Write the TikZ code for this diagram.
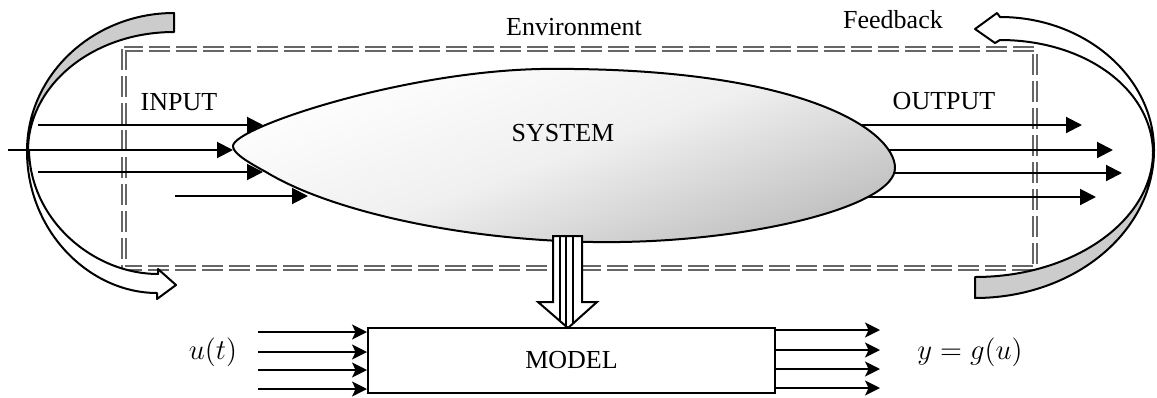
\documentclass[tikz,border=0pt]{standalone}
\usepackage{fontspec}
\setmainfont{Liberation Serif}
\usetikzlibrary{arrows.meta}
\begin{document}
\begin{tikzpicture}[x=0.5pt,y=-0.5pt,
  lbl/.style={font=\fontsize{13}{15}\selectfont, inner sep=0pt},
  mlbl/.style={font=\fontsize{15}{17}\selectfont, inner sep=0pt},
  env/.style={draw=black!60, double=white, double distance=0.9pt, line width=1pt, dash pattern=on 10.5pt off 3pt},
  arr/.style={line width=1pt, -{Triangle[length=8pt,width=8pt]}},
  marr/.style={line width=1pt, -{Stealth[length=7.5pt,width=7.5pt,inset=1.8pt]}},
  band/.style={draw=black, line width=1pt, line join=round},
  blob/.style={draw=black, line width=1pt, top color=white, bottom color=gray!50, middle color=white!88!gray, shading angle=20},
]
\fill[white] (0,0) rectangle (1157,397);
\useasboundingbox (0,0) rectangle (1157,397);

% environment boundary
\draw[env] (124,49) rectangle (1035,268);
\node[lbl] (env) at (574,27) {Environment};
\node[lbl] (fb) at (893,20) {Feedback};

% output arrows (start under the system shape)
\coordinate (o1s) at (800,125); \coordinate (o1e) at (1082,125);
\coordinate (o2s) at (820,150); \coordinate (o2e) at (1113,150);
\coordinate (o3s) at (820,173); \coordinate (o3e) at (1122,173);
\coordinate (o4s) at (800,197); \coordinate (o4e) at (1096,197);
\draw[arr] (o1s) -- (o1e);
\draw[arr] (o2s) -- (o2e);
\draw[arr] (o3s) -- (o3e);
\draw[arr] (o4s) -- (o4e);

% system shape
\path[blob] (233,146) .. controls (233,128) and (400,72) .. (540,69)
  .. controls (800,66) and (895,130) .. (895,168)
  .. controls (895,205) and (760,240) .. (620,242)
  .. controls (480,244) and (335,214) .. (266,172)
  .. controls (242,159) and (233,152) .. (233,146) -- cycle;
\node[lbl] (system) at (563,133) {SYSTEM};

% input arrows
\coordinate (i1s) at (38,125);  \coordinate (i1e) at (263,125);
\coordinate (i2s) at (8,150);   \coordinate (i2e) at (233,150);
\coordinate (i3s) at (38,172);  \coordinate (i3e) at (263,172);
\coordinate (i4s) at (175,196); \coordinate (i4e) at (308,196);

% left curved arrow
\filldraw[band, fill=gray!40] (174,13) .. controls (93,13) and (27,75) .. (27,151)
  -- (28,151) .. controls (28,85) and (93,32) .. (174,32) -- cycle;
\filldraw[band, fill=white] (27,151) .. controls (27,232) and (90,293) .. (157,293)
  -- (157,299) -- (176,285) -- (158,269) -- (158,274)
  .. controls (95,274) and (31,222) .. (29,151) -- cycle;

% right curved arrow
\filldraw[band, fill=gray!40] (1154,150) .. controls (1154,232) and (1074,298) .. (975,298)
  -- (975,277) .. controls (1074,277) and (1153,220) .. (1153,152) -- cycle;
\filldraw[band, fill=white] (1154,150) .. controls (1154,77) and (1085,17) .. (1000,17)
  -- (997,13) -- (975,29) -- (995,43) -- (1000,40)
  .. controls (1085,40) and (1152,89) .. (1153,152) -- cycle;

\draw[arr] (i1s) -- (i1e);
\draw[arr] (i2s) -- (i2e);
\draw[arr] (i3s) -- (i3e);
\draw[arr] (i4s) -- (i4e);

\node[lbl] (input) at (179,102) {INPUT};
\node[lbl] (output) at (944,101) {OUTPUT};

% model block arrow
\def\blockarrow{(553,236) -- (582,236) -- (582,302) -- (597,302) -- (568,328) -- (538,302) -- (553,302) -- cycle}
\fill[white] \blockarrow;
\begin{scope}
  \clip \blockarrow;
  \draw[line width=0.6pt] (560,236) -- (560,330) (566,236) -- (566,330) (573,236) -- (573,330);
\end{scope}
\draw[line width=1pt, line join=miter] \blockarrow;

% model
\node[draw, line width=1pt, minimum width=203.5pt, minimum height=32.5pt, inner sep=0pt,
  font=\fontsize{13}{15}\selectfont] (model) at (571.5,360.5) {MODEL};

\foreach \y/\n in {332/1,352/2,370/3,389/4}{
  \coordinate (mi\n) at (258,\y);
  \draw[marr] (mi\n) -- (mi\n -| model.west);
}
\foreach \y/\n in {330/1,350/2,369/3,388/4}{
  \coordinate (mo\n) at (880,\y);
  \draw[marr] (mo\n -| model.east) -- (mo\n);
}
\node[mlbl] (ut) at (213,352) {$u(t)$};
\node[mlbl] (yg) at (970,352) {$y = g(u)$};
\end{tikzpicture}
\end{document}
